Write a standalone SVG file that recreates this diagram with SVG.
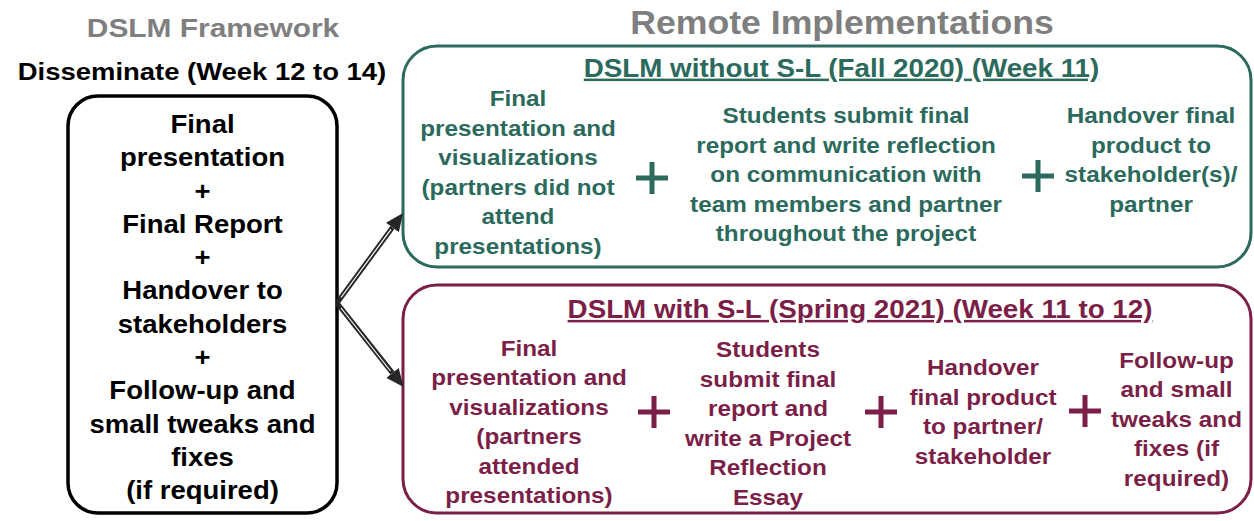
<svg xmlns="http://www.w3.org/2000/svg" width="1254" height="521" viewBox="0 0 1254 521">
  <style>
    text { font-family: "Liberation Sans", Arial, sans-serif; font-weight: bold; text-anchor: middle; }
    .title { fill: #7f7f7f; }
    .blk { fill: #000; font-size: 25px; }
    .grn { fill: #2b6a5c; font-size: 21.5px; }
    .mar { fill: #7b1f48; font-size: 21.5px; }
    .hdr { font-size: 25px; text-decoration: underline; }
    .plus-g { stroke: #2b6a5c; stroke-width: 5; fill: none; }
    .plus-m { stroke: #7b1f48; stroke-width: 5; fill: none; }
  </style>
  <defs>
    <marker id="head" markerUnits="userSpaceOnUse" markerWidth="18" markerHeight="16" viewBox="0 0 18 16" refX="0" refY="8" orient="auto">
      <path d="M0,0 L18,8 L0,16 z" fill="#262626"/>
    </marker>
  </defs>
  <rect width="1254" height="521" fill="#ffffff"/>

  <!-- headings -->
  <g id="headings">
    <text class="title" font-size="26" transform="translate(213 36.7) scale(1.15 1)">DSLM Framework</text>
    <text font-size="24.5" fill="#000" transform="translate(202 80) scale(1.12 1)">Disseminate (Week 12 to 14)</text>
    <text class="title" font-size="33" transform="translate(842 34) scale(1.08 1)">Remote Implementations</text>
  </g>

  <!-- framework stage -->
  <g id="framework">
    <rect x="68" y="96" width="269" height="417" rx="30" ry="30" fill="#fff" stroke="#000" stroke-width="3.5"/>
    <g class="blk" transform="translate(202.5 0) scale(1.1 1)">
      <text x="0" y="133">Final</text>
      <text x="0" y="166.3">presentation</text>
      <text x="0" y="199.6">+</text>
      <text x="0" y="232.9">Final Report</text>
      <text x="0" y="266.2">+</text>
      <text x="0" y="299.5">Handover to</text>
      <text x="0" y="332.8">stakeholders</text>
      <text x="0" y="366.1">+</text>
      <text x="0" y="399.4">Follow-up and</text>
      <text x="0" y="432.7">small tweaks and</text>
      <text x="0" y="466">fixes</text>
      <text x="0" y="499.3">(if required)</text>
    </g>
  </g>

  <!-- implementation without service-learning -->
  <g id="without-sl">
    <rect x="403" y="46" width="848" height="221" rx="34" ry="34" fill="#fff" stroke="#2b6a5c" stroke-width="3"/>
    <text class="grn hdr" transform="translate(841.5 76.7) scale(1.11 1)">DSLM without S-L (Fall 2020) (Week 11)</text>
    <g class="grn" transform="translate(518 0) scale(1.13 1)">
      <text x="0" y="106.5">Final</text>
      <text x="0" y="136">presentation and</text>
      <text x="0" y="165.5">visualizations</text>
      <text x="0" y="195">(partners did not</text>
      <text x="0" y="224.5">attend</text>
      <text x="0" y="254">presentations)</text>
    </g>
    <path class="plus-g" d="M636,178 H668 M652,162 V194"/>
    <g class="grn" transform="translate(846 0) scale(1.13 1)">
      <text x="0" y="123">Students submit final</text>
      <text x="0" y="152.6">report and write reflection</text>
      <text x="0" y="182.2">on communication with</text>
      <text x="0" y="211.8">team members and partner</text>
      <text x="0" y="241.4">throughout the project</text>
    </g>
    <path class="plus-g" d="M1022,176 H1054 M1038,160 V192"/>
    <g class="grn" transform="translate(1151 0) scale(1.13 1)">
      <text x="0" y="123">Handover final</text>
      <text x="0" y="152.6">product to</text>
      <text x="0" y="182.2">stakeholder(s)/</text>
      <text x="0" y="211.8">partner</text>
    </g>
  </g>

  <!-- implementation with service-learning -->
  <g id="with-sl">
    <rect x="403" y="285" width="848" height="228" rx="34" ry="34" fill="#fff" stroke="#7b1f48" stroke-width="3"/>
    <text class="mar hdr" transform="translate(860 318) scale(1.11 1)">DSLM with S-L (Spring 2021) (Week 11 to 12)</text>
    <g class="mar" transform="translate(529 0) scale(1.13 1)">
      <text x="0" y="356">Final</text>
      <text x="0" y="385.5">presentation and</text>
      <text x="0" y="415">visualizations</text>
      <text x="0" y="444.5">(partners</text>
      <text x="0" y="474">attended</text>
      <text x="0" y="503.5">presentations)</text>
    </g>
    <path class="plus-m" d="M638,412 H670 M654,396 V428"/>
    <g class="mar" transform="translate(768 0) scale(1.13 1)">
      <text x="0" y="357">Students</text>
      <text x="0" y="386.6">submit final</text>
      <text x="0" y="416.2">report and</text>
      <text x="0" y="445.8">write a Project</text>
      <text x="0" y="475.4">Reflection</text>
      <text x="0" y="505">Essay</text>
    </g>
    <path class="plus-m" d="M865,412 H897 M881,396 V428"/>
    <g class="mar" transform="translate(983 0) scale(1.13 1)">
      <text x="0" y="375">Handover</text>
      <text x="0" y="404.6">final product</text>
      <text x="0" y="434.2">to partner/</text>
      <text x="0" y="463.8">stakeholder</text>
    </g>
    <path class="plus-m" d="M1069,411 H1101 M1085,395 V427"/>
    <g class="mar" transform="translate(1176.5 0) scale(1.13 1)">
      <text x="0" y="368">Follow-up</text>
      <text x="0" y="397.5">and small</text>
      <text x="0" y="427">tweaks and</text>
      <text x="0" y="456.5">fixes (if</text>
      <text x="0" y="486">required)</text>
    </g>
  </g>

  <!-- connectors: hollow-core arrows from the framework stage -->
  <g id="connectors" fill="none" stroke-linecap="butt">
    <path d="M337,303 L392.4,227.5" stroke="#262626" stroke-width="5" marker-end="url(#head)"/>
    <path d="M337,303 L392.4,372.9" stroke="#262626" stroke-width="5" marker-end="url(#head)"/>
    <path d="M341,297.5 L391,229.4" stroke="#fff" stroke-width="1.2"/>
    <path d="M341,308 L390.5,371" stroke="#fff" stroke-width="1.2"/>
  </g>
</svg>
